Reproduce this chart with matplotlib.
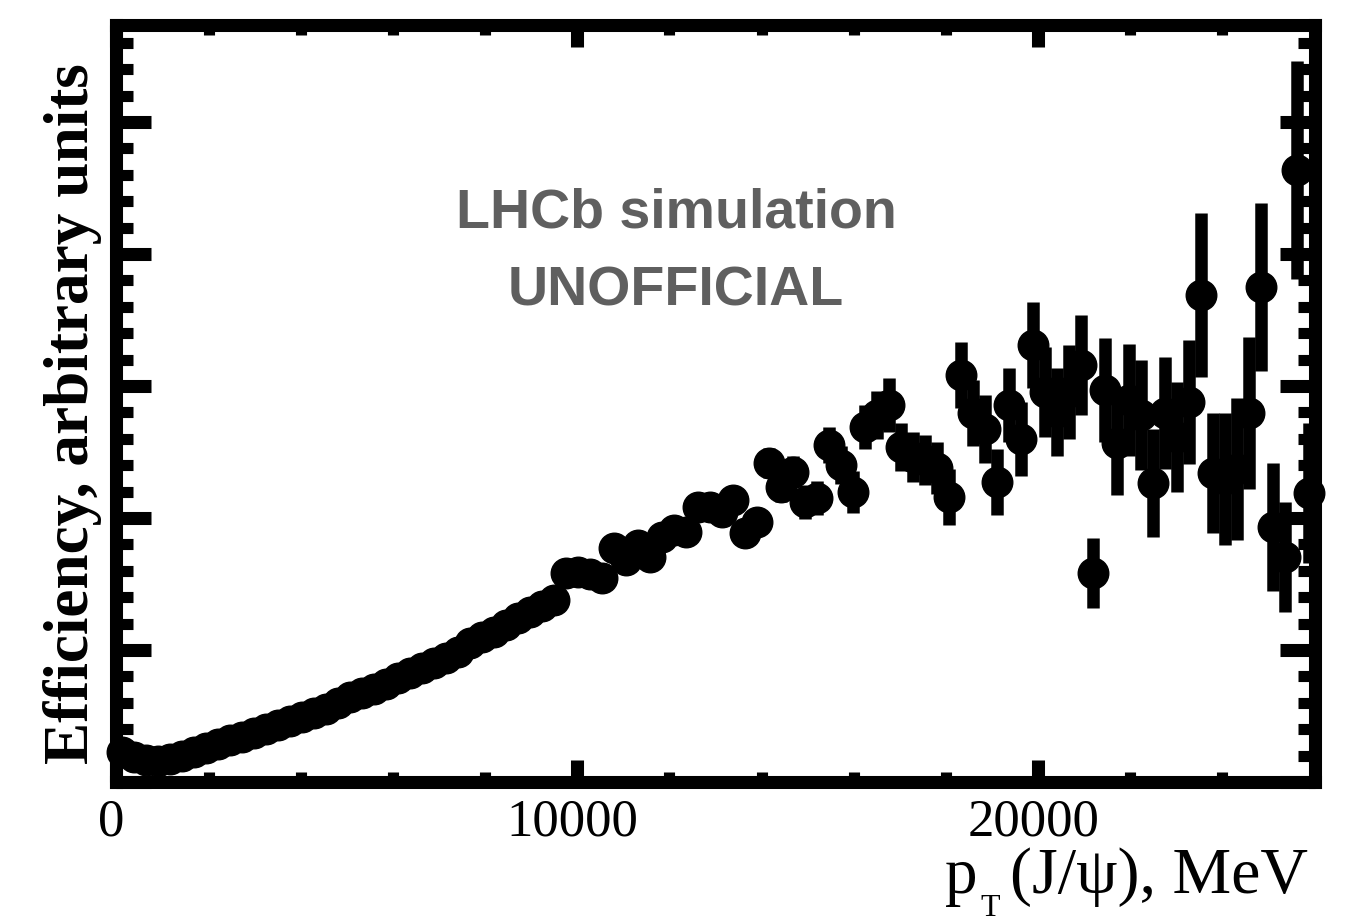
import matplotlib.pyplot as plt
from matplotlib.ticker import MultipleLocator
from matplotlib.transforms import ScaledTranslation

# Efficiency vs pT(J/psi), LHCb-style (ROOT look)
plt.rcParams['font.family'] = ['Liberation Serif', 'DejaVu Serif']

# bin centres in MeV (100 bins of 260 MeV)
pt_centers = [
    130, 390, 650, 910, 1170, 1430, 1690, 1950, 2210, 2470,
    2730, 2990, 3250, 3510, 3770, 4030, 4290, 4550, 4810, 5070,
    5330, 5590, 5850, 6110, 6370, 6630, 6890, 7150, 7410, 7670,
    7930, 8190, 8450, 8710, 8970, 9230, 9490, 9750, 10010, 10270,
    10530, 10790, 11050, 11310, 11570, 11830, 12090, 12350, 12610, 12870,
    13130, 13390, 13650, 13910, 14170, 14430, 14690, 14950, 15210, 15470,
    15730, 15990, 16250, 16510, 16770, 17030, 17290, 17550, 17810, 18070,
    18330, 18590, 18850, 19110, 19370, 19630, 19890, 20150, 20410, 20670,
    20930, 21190, 21450, 21710, 21970, 22230, 22490, 22750, 23010, 23270,
    23530, 23790, 24050, 24310, 24570, 24830, 25090, 25350, 25610, 25870,
]

# efficiency, arbitrary units
efficiency = [
    0.227, 0.189, 0.167, 0.159, 0.174, 0.197, 0.227, 0.258, 0.288, 0.318,
    0.341, 0.371, 0.402, 0.432, 0.462, 0.492, 0.523, 0.553, 0.598, 0.644,
    0.674, 0.705, 0.742, 0.788, 0.826, 0.864, 0.902, 0.939, 0.985, 1.053,
    1.098, 1.136, 1.189, 1.242, 1.288, 1.333, 1.379, 1.583, 1.591, 1.576,
    1.545, 1.773, 1.682, 1.795, 1.705, 1.856, 1.909, 1.894, 2.083, 2.083,
    2.045, 2.136, 1.886, 1.970, 2.417, 2.235, 2.348, 2.121, 2.152, 2.553,
    2.402, 2.197, 2.689, 2.780, 2.856, 2.538, 2.462, 2.439, 2.379, 2.159,
    3.083, 2.795, 2.674, 2.273, 2.856, 2.598, 3.311, 2.955, 2.803, 2.955,
    3.159, 1.583, 2.970, 2.568, 2.894, 2.780, 2.265, 2.795, 2.614, 2.879,
    3.689, 2.341, 2.295, 2.371, 2.795, 3.750, 1.932, 1.705, 4.636, 2.189,
]

efficiency_err = [
    0.015, 0.015, 0.015, 0.015, 0.015, 0.015, 0.015, 0.015, 0.015, 0.015,
    0.015, 0.015, 0.023, 0.023, 0.023, 0.023, 0.023, 0.023, 0.023, 0.023,
    0.023, 0.030, 0.030, 0.030, 0.030, 0.030, 0.030, 0.038, 0.038, 0.038,
    0.038, 0.038, 0.045, 0.045, 0.045, 0.045, 0.053, 0.053, 0.053, 0.053,
    0.061, 0.061, 0.061, 0.068, 0.068, 0.068, 0.076, 0.076, 0.083, 0.083,
    0.091, 0.091, 0.091, 0.098, 0.114, 0.114, 0.121, 0.129, 0.129, 0.136,
    0.144, 0.159, 0.167, 0.182, 0.205, 0.182, 0.189, 0.189, 0.197, 0.212,
    0.250, 0.250, 0.258, 0.250, 0.280, 0.280, 0.326, 0.341, 0.333, 0.356,
    0.379, 0.265, 0.394, 0.394, 0.424, 0.417, 0.409, 0.424, 0.417, 0.470,
    0.621, 0.455, 0.500, 0.538, 0.576, 0.636, 0.485, 0.417, 0.826, 0.530,
]

fig = plt.figure(figsize=(13.48, 9.24), dpi=100)
ax = fig.add_axes([0.0864, 0.1537, 0.8888, 0.8192])

cont = ax.errorbar(pt_centers, efficiency, yerr=efficiency_err, fmt='o',
                   color='black', ms=22, elinewidth=9, capsize=0, zorder=3)
for art in cont.get_children():
    art.set_clip_on(False)

ax.set_xlim(0, 26000)
ax.set_ylim(0, 5.735)

# thick ROOT frame
for sp in ax.spines.values():
    sp.set_linewidth(9.4)

ax.xaxis.set_major_locator(MultipleLocator(10000))
ax.xaxis.set_minor_locator(MultipleLocator(2000))
ax.yaxis.set_major_locator(MultipleLocator(1))
ax.yaxis.set_minor_locator(MultipleLocator(0.2))
ax.tick_params(which='both', direction='in', top=True, right=True, color='black')
ax.tick_params(axis='y', which='major', length=25, width=9.4)
ax.tick_params(axis='y', which='minor', length=12, width=8)
ax.tick_params(axis='x', which='major', length=16, width=9.4)
ax.tick_params(axis='x', which='minor', length=7, width=8)
ax.tick_params(axis='y', labelleft=False)
ax.tick_params(axis='x', labelsize=38, pad=12)
for lbl in ax.get_xticklabels():
    lbl.set_transform(lbl.get_transform() + ScaledTranslation(-0.05, 0, fig.dpi_scale_trans))

# axis titles
fig.text(73 / 1348, 1 - 414 / 924, 'Efficiency, arbitrary units', rotation=90,
         ha='center', va='center', fontsize=45.5, fontweight='bold')
fig.text(945 / 1348, 31 / 924, 'p', ha='left', va='baseline', fontsize=47)
fig.text(980 / 1348, 1 / 924, 'T', ha='left', va='bottom', fontsize=23)
fig.text(1308 / 1348, 31 / 924, '(J/ψ), MeV', ha='right', va='baseline', fontsize=47.5)

# watermark
fig.text(676 / 1348, 1 - 228 / 924, 'LHCb simulation', ha='center', va='baseline',
         fontsize=40, fontweight='bold', family='Liberation Sans', color='#5f5f5f')
fig.text(676 / 1348, 1 - 305 / 924, 'UNOFFICIAL', ha='center', va='baseline',
         fontsize=40, fontweight='bold', family='Liberation Sans', color='#5f5f5f')

fig.savefig('out.png', dpi=100)
